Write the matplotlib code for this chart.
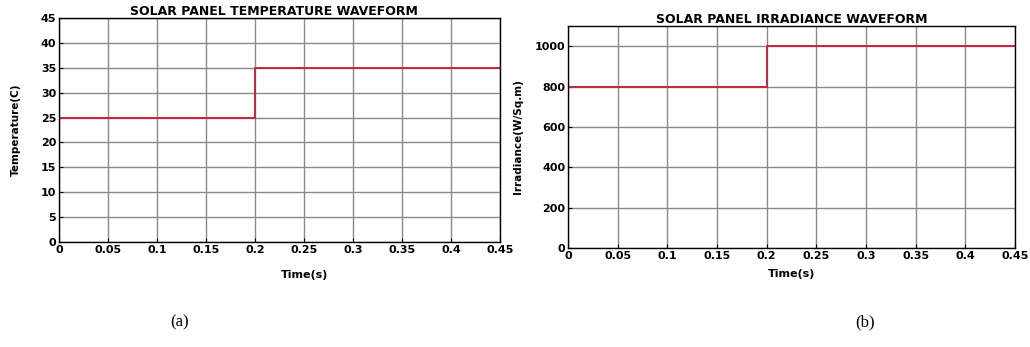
import matplotlib.pyplot as plt
import numpy as np

plt.rcParams['font.family'] = ['DejaVu Sans']
plt.rcParams['font.weight'] = 'bold'

# temperature step
t_temp = [0, 0.2, 0.2, 0.45]
temp = [25, 25, 35, 35]

# irradiance step
t_irr = [0, 0.2, 0.2, 0.45]
irr = [800, 800, 1000, 1000]

xticks = [0, 0.05, 0.1, 0.15, 0.2, 0.25, 0.3, 0.35, 0.4, 0.45]
xticklabels = ['0', '0.05', '0.1', '0.15', '0.2', '0.25', '0.3', '0.35', '0.4', '0.45']
line_col = '#c0283c'

W, H = 1030, 347
fig = plt.figure(figsize=(W / 100, H / 100), dpi=100)

def box(l, r, t, b):
    return [l / W, 1 - b / H, (r - l) / W, (b - t) / H]

def style(ax):
    ax.set_xlim(0, 0.45)
    ax.set_xticks(xticks)
    ax.set_xticklabels(xticklabels)
    ax.grid(True, color='#8a8a8a', linewidth=1.0)
    ax.tick_params(direction='in', length=3, labelsize=8, pad=2)
    for s in ax.spines.values():
        s.set_linewidth(1.0)
    for lab in ax.get_xticklabels() + ax.get_yticklabels():
        lab.set_fontweight('bold')

ax1 = fig.add_axes(box(59, 500, 18, 242))
ax1.plot(t_temp, temp, color=line_col, linewidth=1.4)
ax1.set_ylim(0, 45)
ax1.set_yticks(range(0, 46, 5))
style(ax1)
ax1.set_title('SOLAR PANEL TEMPERATURE WAVEFORM', fontsize=9, fontweight='bold',
              pad=2, x=0.488)
ax1.set_xlabel('Time(s)', fontsize=8, fontweight='bold')
ax1.xaxis.set_label_coords(0.557, -0.125)
ax1.set_ylabel('Temperature(C)', fontsize=7.5, fontweight='bold', labelpad=14)

ax2 = fig.add_axes(box(568, 1015, 26, 248))
ax2.plot(t_irr, irr, color=line_col, linewidth=1.4)
ax2.set_ylim(0, 1100)
ax2.set_yticks(range(0, 1001, 200))
style(ax2)
ax2.set_title('SOLAR PANEL IRRADIANCE WAVEFORM', fontsize=9, fontweight='bold', pad=2)
ax2.set_xlabel('Time(s)', fontsize=8, fontweight='bold', labelpad=6)
ax2.set_ylabel('Irradiance(W/Sq.m)', fontsize=7.5, fontweight='bold', labelpad=8)

fig.text(180 / W, 1 - 322 / H, '(a)', fontsize=12, fontweight='normal',
         family='Liberation Serif', ha='center', va='center')
fig.text(865 / W, 1 - 322 / H, '(b)', fontsize=12, fontweight='normal',
         family='Liberation Serif', ha='center', va='center')

fig.savefig('out.png', dpi=100)
